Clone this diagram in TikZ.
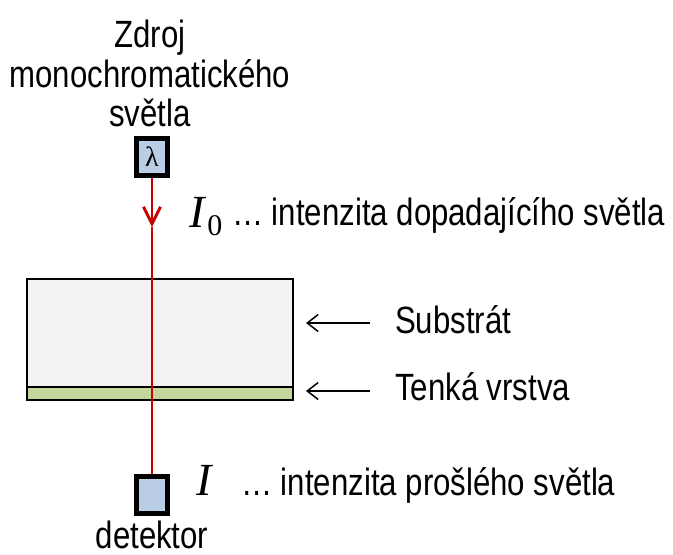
\documentclass[tikz,border=0pt]{standalone}
\usepackage{fontspec}
\setmainfont[FakeStretch=0.82]{Liberation Sans}
\newfontfamily\seriffont{Liberation Serif}
\usetikzlibrary{arrows.meta}
\definecolor{boxblue}{RGB}{185,205,229}
\definecolor{subgray}{RGB}{242,242,242}
\definecolor{filmgreen}{RGB}{195,214,155}
\definecolor{beamred}{RGB}{200,0,0}
\tikzset{
  lbl/.style={inner sep=0pt, anchor=base, font=\fontsize{38}{40}\selectfont},
  lblw/.style={lbl, anchor=base west},
  devbox/.style={draw=black, line width=4.5pt, fill=boxblue, minimum width=31pt, minimum height=37pt, inner sep=0pt},
  beam/.style={draw=beamred, line width=2.8pt},
  pointer/.style={draw=black, line width=1.5pt, -{Straight Barb[length=11pt,width=17pt]}},
}
\begin{document}
\begin{tikzpicture}[x=1pt,y=-1pt]
\useasboundingbox (0,0) rectangle (673,555);
% labels of source
\node[lbl] (t1) at (150,47) {Zdroj};
\node[lbl] (t2) at (150,87) {monochromatického};
\node[lbl] (t3) at (150,126) {světla};
% source box
\node[devbox] (src) at (152,157) {\seriffont\fontsize{28}{28}\selectfont λ};
% substrate and film
\node[draw=black, line width=1.5pt, fill=subgray, minimum width=266pt, minimum height=108pt, inner sep=0pt, anchor=north west] (sub) at (26,278) {};
\node[draw=black, line width=1.5pt, fill=filmgreen, minimum width=266pt, minimum height=13pt, inner sep=0pt, anchor=north west] (film) at (26,386) {};
% detector
\node[devbox] (det) at (152,495) {};
\node[lbl] (dt) at (152,548) {detektor};
% beam
\coordinate (tip) at (152,227);
\draw[beam, -{Straight Barb[length=17pt,width=17pt]}] (src.south) -- (tip);
\draw[beam] (tip) -- (det.north);
% I0 label
\node[inner sep=0pt, anchor=base west] (i0) at (189,227) {\seriffont\fontsize{46}{46}\selectfont\itshape I\/\kern1pt\raisebox{-8pt}{\upshape\fontsize{30}{30}\selectfont 0}};
\node[lblw] (i0t) at (232,225) {… intenzita dopadajícího světla};
% I label
\node[inner sep=0pt, anchor=base west] (i1) at (196,495) {\seriffont\fontsize{46}{46}\selectfont\itshape I};
\node[lblw] (i1t) at (241,495) {… intenzita prošlého světla};
% pointers
\coordinate (a1s) at (370,323);
\coordinate (a1e) at (306,323);
\coordinate (a2s) at (370,391);
\coordinate (a2e) at (306,391);
\draw[pointer] (a1s) -- (a1e);
\draw[pointer] (a2s) -- (a2e);
\node[lblw] (subt) at (395,333) {Substrát};
\node[lblw] (filmt) at (395,400) {Tenká vrstva};
\end{tikzpicture}
\end{document}
